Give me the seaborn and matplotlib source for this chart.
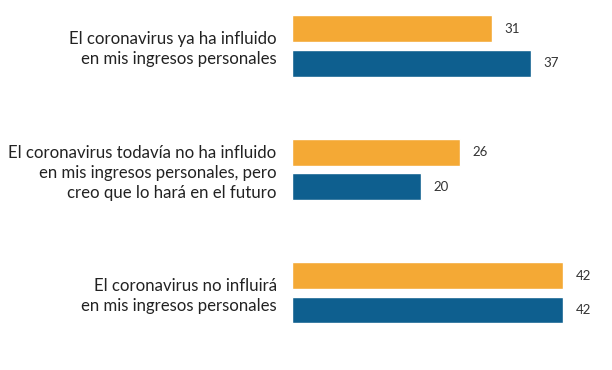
import matplotlib
matplotlib.use('Agg')
import seaborn as sns
import matplotlib.pyplot as plt
import pandas as pd

categorias = [
    'El coronavirus ya ha influido\nen mis ingresos personales',
    'El coronavirus todavía no ha influido\nen mis ingresos personales, pero\ncreo que lo hará en el futuro',
    'El coronavirus no influirá\nen mis ingresos personales',
]
serie_naranja = [31, 26, 42]
serie_azul = [37, 20, 42]

df = pd.DataFrame({
    'categoria': categorias * 2,
    'valor': serie_naranja + serie_azul,
    'serie': ['naranja'] * 3 + ['azul'] * 3,
})

sns.set_style('white')
plt.rcParams['font.family'] = ['Lato', 'DejaVu Sans']

fig = plt.figure(figsize=(6.12, 3.7), dpi=100)
ax = fig.add_axes([292 / 612, 0, 1 - 292 / 612, 1])
sns.barplot(data=df, y='categoria', x='valor', hue='serie', orient='h',
            palette=['#F4A935', '#0E5F8F'], saturation=1,
            width=0.553, gap=0.21, legend=False, ax=ax)

ax.set_xlim(0, 49.6)
ax.set_ylim(2.624, -0.372)
for c in ax.containers:
    ax.bar_label(c, padding=9, fontsize=9.5, color='#333333')

ax.set_xlabel('')
ax.set_ylabel('')
ax.set_xticks([])
ax.tick_params(axis='y', length=0, pad=11, labelsize=12.1, labelcolor='#222222')
for t in ax.get_yticklabels():
    t.set_linespacing(1.3)
sns.despine(left=True, bottom=True)

fig.savefig('out.png', dpi=100)
